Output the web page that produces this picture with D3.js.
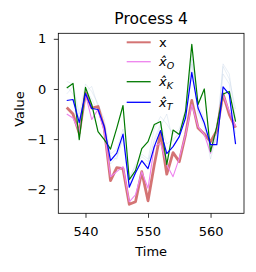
<!DOCTYPE html>
<html>
<head>
<meta charset="utf-8">
<script src="https://cdn.jsdelivr.net/npm/d3@7"></script>
<style>
  body { margin: 0; background: #fff; }
  text { font-family: "DejaVu Sans", sans-serif; fill: #000; }
</style>
</head>
<body>
<div id="chart"></div>
<script>
// time steps
var times = d3.range(537, 565);

// true signal x
var xTrue = [-0.37, -0.5, -0.88, -0.08, -0.38, -0.35, -0.78, -1.83, -1.57, -1.59, -2.3, -2.25, -1.65, -2.23,
  -1.51, -0.88, -1.7, -1.27, -1.45, -0.91, -0.23, -0.78, -0.9, -1.05, -0.83, -0.1, -0.51, -0.77];
// x hat O
var xO = [-0.5, -0.58, -0.85, -0.11, -0.61, -0.41, -0.85, -1.75, -1.65, -1.55, -2.25, -2.11, -1.65, -1.98,
  -1.15, -1.08, -1.51, -1.75, -1.38, -0.91, -0.31, -0.75, -0.91, -1.28, -0.78, -0.11, -0.45, -0.75];
// x hat K
var xK = [0.02, 0.11, -1.01, 0.03, -0.31, -0.85, -1.01, -1.2, -0.78, -0.33, -1.81, -1.63, -1.19, -1.05,
  -0.71, -0.65, -1.51, -0.82, -0.91, -0.45, 0.89, -0.31, 0.0, -1.25, -0.75, -0.1, -0.05, -0.65];
// x hat T
var xT = [-0.23, -0.21, -0.67, -0.09, -0.39, -0.41, -0.75, -1.43, -1.28, -0.9, -1.96, -1.67, -1.43, -1.59,
  -1.15, -0.83, -1.29, -1.15, -0.95, -0.58, 0.33, -0.38, -0.68, -1.11, -1.11, 0.04, -0.11, -1.1];
// faint sample trajectories
var samples = [
  [0.15, 0.1, -0.5, 0.1, -0.05, -0.3, -0.6, -1.3, -1.2, -0.8, -1.8, -1.5, -1.3, -1.4,
   -0.8, -0.55, -0.7, -0.9, -0.8, -0.4, 0.7, -0.3, -0.6, -1.3, -0.9, 0.5, 0.3, -0.6],
  [-0.1, 0.05, -0.75, 0.0, -0.2, -0.45, -0.8, -1.5, -1.35, -1.0, -1.9, -1.6, -1.45, -1.5,
   -1.0, -0.7, -1.1, -1.0, -0.9, -0.5, 0.5, -0.45, -0.7, -1.2, -1.0, 0.3, 0.1, -0.9],
  [0.05, -0.1, -0.6, -0.05, 0.05, -0.35, -0.7, -1.35, -1.4, -0.95, -1.75, -1.55, -1.35, -1.45,
   -1.05, -0.75, -0.5, -1.05, -0.85, -0.55, 0.6, -0.5, -0.75, -1.4, -0.9, 0.45, 0.2, -0.4]
];
var xTicks = [540, 550, 560];
var yTicks = [1, 0, -1, -2];

var W = 256, H = 272;
var m = {left: 58.3, right: 12, top: 33.3, bottom: 58.7};

var svg = d3.select("#chart").append("svg")
  .attr("width", W).attr("height", H);

var x = d3.scaleLinear().domain([535.65, 565.35]).range([m.left, W - m.right]);
var y = d3.scaleLinear().domain([-2.48, 1.11]).range([H - m.bottom, m.top]);

var line = d3.line().x(function(d, i) { return x(times[i]); }).y(function(d) { return y(d); });

var plot = svg.append("g");

samples.forEach(function(s) {
  plot.append("path").attr("d", line(s))
    .attr("fill", "none").attr("stroke", "#b0c4de").attr("stroke-opacity", 0.35)
    .attr("stroke-width", 0.8);
});

var series = [
  {data: xTrue, color: "#cd5c5c", width: 2.8, op: 0.85, name: "x"},
  {data: xO, color: "#ee82ee", width: 1.1, op: 1, name: "O"},
  {data: xK, color: "#007a00", width: 1.2, op: 1, name: "K"},
  {data: xT, color: "#0000ff", width: 1.2, op: 1, name: "T"}
];

series.forEach(function(s) {
  plot.append("path").attr("d", line(s.data))
    .attr("fill", "none").attr("stroke", s.color).attr("stroke-opacity", s.op)
    .attr("stroke-width", s.width).attr("stroke-linejoin", "round");
});

// axes
var xAxis = svg.append("g").attr("transform", "translate(0," + (H - m.bottom) + ")")
  .call(d3.axisBottom(x).tickValues(xTicks).tickSize(4.5).tickPadding(8.5));
var yAxis = svg.append("g").attr("transform", "translate(" + m.left + ",0)")
  .call(d3.axisLeft(y).tickValues(yTicks).tickSize(4.5).tickPadding(7.5).tickFormat(d3.format("d")));
[xAxis, yAxis].forEach(function(a) {
  a.select(".domain").remove();
  a.selectAll("line").attr("stroke", "#000").attr("stroke-width", 0.8);
  a.selectAll("text").attr("font-size", 13).attr("font-family", "DejaVu Sans").attr("fill", "#000");
});

svg.append("rect")
  .attr("x", m.left).attr("y", m.top)
  .attr("width", W - m.right - m.left).attr("height", H - m.bottom - m.top)
  .attr("fill", "none").attr("stroke", "#000").attr("stroke-width", 0.8);

// title and labels
svg.append("text").attr("x", (m.left + W - m.right) / 2).attr("y", 23.5)
  .attr("text-anchor", "middle").attr("font-size", 15.5).text("Process 4");
svg.append("text").attr("x", (m.left + W - m.right) / 2).attr("y", 256)
  .attr("text-anchor", "middle").attr("font-size", 13).text("Time");
svg.append("text").attr("transform", "translate(23.5,109) rotate(-90)")
  .attr("text-anchor", "middle").attr("font-size", 13).text("Value");

// legend
var legY = [42.3, 61.7, 81.7, 102.3];
var leg = svg.append("g");
series.forEach(function(s, i) {
  leg.append("line").attr("x1", 126.7).attr("x2", 150.7)
    .attr("y1", legY[i]).attr("y2", legY[i])
    .attr("stroke", s.color).attr("stroke-opacity", s.op)
    .attr("stroke-width", i == 0 ? 2 : 1.3);
  var t = leg.append("text").attr("x", 159).attr("y", legY[i] + 4.5).attr("font-size", 13);
  if (i == 0) {
    t.text("x");
  } else {
    t.append("tspan").attr("font-style", "italic").text("x\u0302");
    t.append("tspan").attr("font-style", "italic").attr("font-size", 9.5)
      .attr("dy", 3).text(s.name);
  }
});
</script>
</body>
</html>
